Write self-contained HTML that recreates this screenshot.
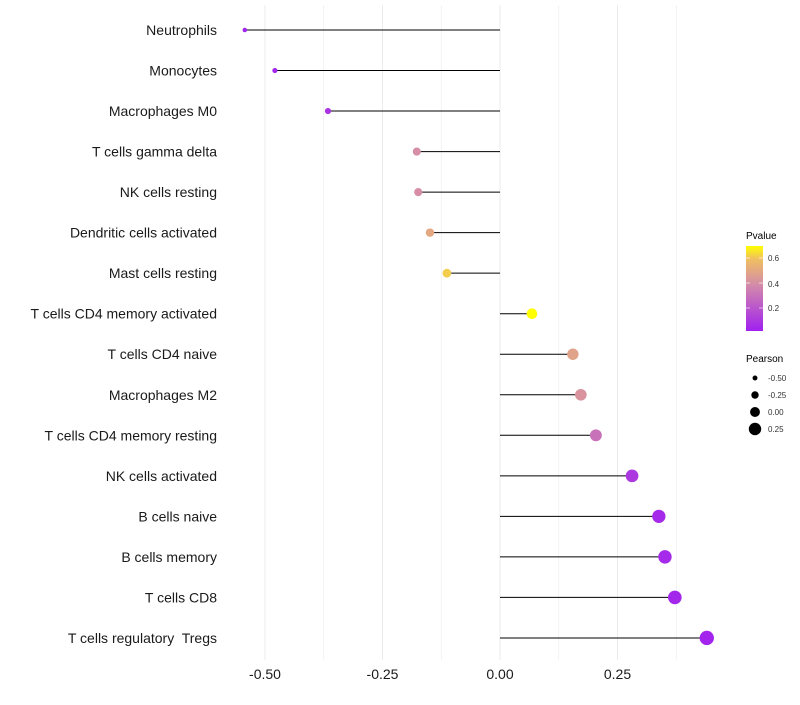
<!DOCTYPE html>
<html><head><meta charset="utf-8"><style>
body{margin:0;background:#fff;font-family:"Liberation Sans",sans-serif}
text{white-space:pre}
</style></head><body>
<svg id="chart" width="800" height="700" xmlns="http://www.w3.org/2000/svg">
<defs><linearGradient id="pg" x1="0" y1="1" x2="0" y2="0">
<stop offset="0" stop-color="#a020f0"/><stop offset="0.55" stop-color="#d48ca8"/><stop offset="0.85" stop-color="#f0c060"/><stop offset="1" stop-color="#ffff00"/></linearGradient></defs>
<g id="grid"></g>
<g id="marks"></g>
<g id="labels"></g>
<g id="xt"></g>
<g font-size="10">
<text x="746" y="239">Pvalue</text>
<rect x="746" y="246" width="17" height="85" fill="url(#pg)"/>
<g stroke="#fff" stroke-opacity="0.6"><line x1="746" x2="750" y1="258" y2="258"/><line x1="759" x2="763" y1="258" y2="258"/><line x1="746" x2="750" y1="283" y2="283"/><line x1="759" x2="763" y1="283" y2="283"/><line x1="746" x2="750" y1="308" y2="308"/><line x1="759" x2="763" y1="308" y2="308"/></g>
<g font-size="8" fill="#333"><text x="768" y="261">0.6</text><text x="768" y="287">0.4</text><text x="768" y="311">0.2</text></g>
<text x="746" y="362">Pearson</text>
<g id="sizeleg"></g>
</g>
</svg>
<script>
const categories=["Neutrophils","Monocytes","Macrophages M0","T cells gamma delta","NK cells resting","Dendritic cells activated","Mast cells resting","T cells CD4 memory activated","T cells CD4 naive","Macrophages M2","T cells CD4 memory resting","NK cells activated","B cells naive","B cells memory","T cells CD8","T cells regulatory  Tregs"];
const pearson=[-0.543,-0.479,-0.366,-0.177,-0.174,-0.149,-0.113,0.068,0.155,0.172,0.204,0.281,0.338,0.351,0.372,0.440];
const pvalue=[0.03,0.04,0.08,0.4,0.4,0.5,0.62,0.72,0.48,0.42,0.3,0.1,0.05,0.05,0.04,0.03];
const xTicks=[-0.5,-0.25,0,0.25];
const xTickLabels=["-0.50","-0.25","0.00","0.25"];
const sizeLegend=[-0.5,-0.25,0,0.25];
const sizeLegendLabels=["-0.50","-0.25","0.00","0.25"];
const NS="http://www.w3.org/2000/svg";
const xs=v=>500+v*470;
const ys=i=>30+i*40.53;
const rs=v=>Math.max(1.8,2.2+(v+0.55)*5);
function lerp(a,b,t){return a.map((x,i)=>Math.round(x+(b[i]-x)*t));}
const stops=[[0.016,[160,32,240]],[0.39,[212,140,168]],[0.6,[240,192,96]],[0.696,[255,255,0]]];
function col(p){p=Math.max(stops[0][0],Math.min(stops[3][0],p));for(let i=0;i<3;i++){if(p<=stops[i+1][0]){const t=(p-stops[i][0])/(stops[i+1][0]-stops[i][0]);return "rgb("+lerp(stops[i][1],stops[i+1][1],t).join(",")+")";}}}
function mk(tag,attrs,parent){const e=document.createElementNS(NS,tag);for(const k in attrs)e.setAttribute(k,attrs[k]);document.getElementById(parent).appendChild(e);return e;}
for(let k=-4;k<=3;k++){const v=k*0.125;const l=mk("line",{x1:xs(v),x2:xs(v),y1:5,y2:660,stroke:"#ebebeb","stroke-width":k%2===0?1:0.6},"grid");

}
xTicks.forEach((v,i)=>{const t=mk("text",{x:xs(v),y:679,"text-anchor":"middle","font-size":"14",fill:"#1a1a1a"},"xt");t.textContent=xTickLabels[i];

});
categories.forEach((c,i)=>{const y=ys(i);
const t=mk("text",{x:217,y:y+5,"text-anchor":"end","font-size":"14",fill:"#1a1a1a"},"labels");t.textContent=c;


const s=mk("line",{x1:xs(0),x2:xs(pearson[i]),y1:y,y2:y,stroke:"#000","stroke-width":1},"marks");


const d=mk("circle",{cx:xs(pearson[i]),cy:y,r:rs(pearson[i]),fill:col(pvalue[i])},"marks");

});
sizeLegend.forEach((v,i)=>{const y=378+i*17;
const c=mk("circle",{cx:755,cy:y,r:rs(v),fill:"#000"},"sizeleg");


const t=mk("text",{x:768,y:y+3,"font-size":"8",fill:"#333"},"sizeleg");t.textContent=sizeLegendLabels[i];

});
</script>
</body></html>
